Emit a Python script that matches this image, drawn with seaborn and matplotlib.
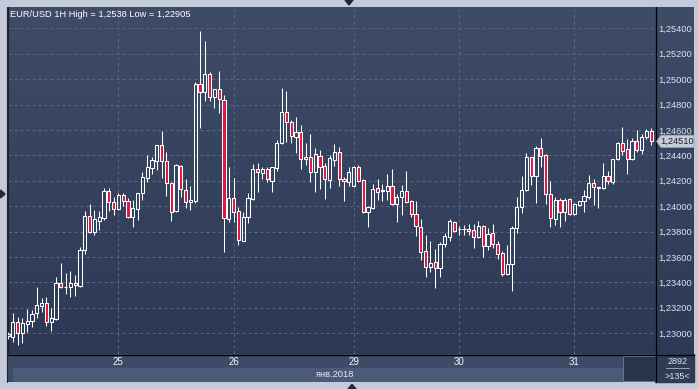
import numpy as np
import pandas as pd
import matplotlib
matplotlib.use("Agg")
import matplotlib.pyplot as plt
import matplotlib.transforms as mtrans
from matplotlib.patches import Polygon, Rectangle
from matplotlib.lines import Line2D
from matplotlib.colors import LinearSegmentedColormap
from matplotlib.ticker import FuncFormatter
import seaborn as sns

# ---------------- data (EUR/USD, 1H candles) ----------------
open_ = [1.22993, 1.22972, 1.23085, 1.22999, 1.23069, 1.23098, 1.23156, 1.23216, 1.23240, 1.23085,
         1.23111, 1.23392, 1.23361, 1.23361, 1.23392, 1.23373, 1.23655, 1.23922, 1.23799, 1.23885,
         1.23909, 1.24119, 1.24035, 1.23975, 1.24085, 1.24043, 1.23917, 1.23975, 1.24101, 1.24224,
         1.24303, 1.24353, 1.24479, 1.24353, 1.24180, 1.23964, 1.24316, 1.24127, 1.24030, 1.24043,
         1.24962, 1.24901, 1.25040, 1.24862, 1.24922, 1.24836, 1.23896, 1.24062, 1.23962, 1.23728,
         1.23912, 1.24054, 1.24290, 1.24258, 1.24290, 1.24200, 1.24298, 1.24495, 1.24739, 1.24660,
         1.24547, 1.24581, 1.24369, 1.24389, 1.24271, 1.24397, 1.24316, 1.24206, 1.24363, 1.24426,
         1.24211, 1.24188, 1.24161, 1.24310, 1.24206, 1.23956, 1.23988, 1.24140, 1.24119, 1.24121,
         1.24158, 1.24014, 1.24070, 1.24119, 1.24040, 1.23936, 1.23838, 1.23647, 1.23518, 1.23558,
         1.23510, 1.23699, 1.23759, 1.23873, 1.23817, 1.23820, 1.23820, 1.23812, 1.23759, 1.23846,
         1.23688, 1.23786, 1.23699, 1.23629, 1.23463, 1.23542, 1.23825, 1.23991, 1.24127, 1.24384,
         1.24240, 1.24455, 1.24403, 1.24093, 1.23896, 1.24048, 1.23951, 1.24056, 1.23936, 1.24009,
         1.24043, 1.24074, 1.24180, 1.24148, 1.24145, 1.24237, 1.24192, 1.24369, 1.24495, 1.24447,
         1.24369, 1.24513, 1.24442, 1.24542, 1.24592]
high = [1.23009, 1.23156, 1.23129, 1.23117, 1.23188, 1.23182, 1.23366, 1.23274, 1.23287, 1.23195,
        1.23444, 1.23550, 1.23476, 1.23489, 1.23458, 1.23676, 1.23962, 1.24017, 1.23970, 1.23962,
        1.24140, 1.24140, 1.24074, 1.24101, 1.24106, 1.24064, 1.24048, 1.24106, 1.24271, 1.24403,
        1.24389, 1.24479, 1.24592, 1.24424, 1.24192, 1.24332, 1.24321, 1.24211, 1.24158, 1.24977,
        1.25380, 1.25303, 1.25058, 1.24922, 1.25064, 1.24875, 1.24310, 1.24224, 1.23991, 1.23956,
        1.24106, 1.24332, 1.24337, 1.24306, 1.24306, 1.24310, 1.24521, 1.24928, 1.24907, 1.24678,
        1.24704, 1.24639, 1.24495, 1.24568, 1.24460, 1.24442, 1.24337, 1.24403, 1.24489, 1.24468,
        1.24232, 1.24310, 1.24316, 1.24324, 1.24211, 1.24001, 1.24174, 1.24214, 1.24174, 1.24253,
        1.24290, 1.24095, 1.24166, 1.24277, 1.24048, 1.24040, 1.23896, 1.23773, 1.23728, 1.23660,
        1.23715, 1.23786, 1.23896, 1.23883, 1.23844, 1.23851, 1.23859, 1.23859, 1.23883, 1.23851,
        1.23825, 1.23859, 1.23728, 1.23647, 1.23694, 1.23844, 1.24070, 1.24237, 1.24416, 1.24389,
        1.24476, 1.24534, 1.24408, 1.24198, 1.24070, 1.24062, 1.24062, 1.24066, 1.24022, 1.24043,
        1.24127, 1.24245, 1.24211, 1.24158, 1.24342, 1.24277, 1.24371, 1.24507, 1.24625, 1.24526,
        1.24534, 1.24599, 1.24568, 1.24607, 1.24613]
low = [1.22954, 1.22932, 1.22905, 1.22925, 1.23011, 1.23046, 1.23117, 1.23169, 1.23058, 1.23019,
       1.23103, 1.23355, 1.23308, 1.23287, 1.23295, 1.23363, 1.23621, 1.23786, 1.23773, 1.23812,
       1.23891, 1.23964, 1.23930, 1.23970, 1.24001, 1.23904, 1.23838, 1.23891, 1.24048, 1.24192,
       1.24253, 1.24284, 1.24219, 1.24082, 1.23883, 1.23956, 1.24074, 1.23983, 1.23970, 1.24022,
       1.24618, 1.24830, 1.24825, 1.24770, 1.24731, 1.23636, 1.23877, 1.23877, 1.23694, 1.23725,
       1.23870, 1.24048, 1.24114, 1.24214, 1.24192, 1.24114, 1.24279, 1.24489, 1.24507, 1.24499,
       1.24416, 1.24290, 1.24324, 1.24192, 1.24114, 1.24135, 1.24056, 1.24140, 1.24316, 1.24158,
       1.24043, 1.24158, 1.24148, 1.24192, 1.23944, 1.23838, 1.23975, 1.24048, 1.24043, 1.24048,
       1.24009, 1.23877, 1.23930, 1.24022, 1.23912, 1.23765, 1.23576, 1.23440, 1.23484, 1.23353,
       1.23440, 1.23676, 1.23728, 1.23799, 1.23773, 1.23773, 1.23773, 1.23673, 1.23747, 1.23597,
       1.23655, 1.23673, 1.23584, 1.23452, 1.23458, 1.23334, 1.23786, 1.23944, 1.24121, 1.24166,
       1.24027, 1.24306, 1.24017, 1.23833, 1.23851, 1.23838, 1.23885, 1.23930, 1.23930, 1.24003,
       1.23956, 1.24054, 1.24009, 1.23988, 1.24135, 1.24174, 1.24174, 1.24363, 1.24403, 1.24251,
       1.24363, 1.24429, 1.24408, 1.24526, 1.24481]
close = [1.22977, 1.23085, 1.22999, 1.23077, 1.23098, 1.23151, 1.23221, 1.23240, 1.23085, 1.23117,
         1.23392, 1.23361, 1.23366, 1.23392, 1.23377, 1.23655, 1.23922, 1.23799, 1.23899, 1.23912,
         1.24119, 1.24035, 1.23977, 1.24088, 1.24043, 1.23917, 1.23983, 1.24101, 1.24227, 1.24310,
         1.24363, 1.24479, 1.24353, 1.24184, 1.23956, 1.24324, 1.24132, 1.24030, 1.24046, 1.24962,
         1.24901, 1.25040, 1.24862, 1.24922, 1.24841, 1.23904, 1.24062, 1.23956, 1.23733, 1.23912,
         1.24062, 1.24290, 1.24265, 1.24290, 1.24211, 1.24306, 1.24495, 1.24739, 1.24660, 1.24552,
         1.24581, 1.24369, 1.24389, 1.24271, 1.24410, 1.24306, 1.24211, 1.24377, 1.24426, 1.24211,
         1.24200, 1.24266, 1.24306, 1.24198, 1.23956, 1.23991, 1.24135, 1.24114, 1.24127, 1.24158,
         1.24014, 1.24070, 1.24119, 1.24030, 1.23936, 1.23844, 1.23636, 1.23518, 1.23550, 1.23510,
         1.23699, 1.23767, 1.23883, 1.23806, 1.23820, 1.23817, 1.23804, 1.23755, 1.23846, 1.23688,
         1.23778, 1.23702, 1.23621, 1.23463, 1.23542, 1.23825, 1.23991, 1.24127, 1.24384, 1.24240,
         1.24455, 1.24397, 1.24093, 1.23904, 1.24048, 1.23951, 1.24048, 1.23936, 1.24014, 1.24043,
         1.24080, 1.24180, 1.24148, 1.24143, 1.24237, 1.24198, 1.24369, 1.24499, 1.24436, 1.24369,
         1.24513, 1.24442, 1.24542, 1.24592, 1.24510]

day_pos = [23, 47, 72, 94, 118]
day_labels = ["25", "26", "29", "30", "31"]
month_label = "янв.2018"
price_ticks = [1.230, 1.232, 1.234, 1.236, 1.238, 1.240, 1.242, 1.244,
               1.246, 1.248, 1.250, 1.252, 1.254]
title = "EUR/USD 1H High = 1,2538 Low = 1,22905"
bars_total = "2892"
bars_visible = ">135<"

# ---------------- style ----------------
sns.set_theme(style="dark")
plt.rcParams["font.family"] = ["Liberation Sans", "DejaVu Sans"]

W, H = 698, 389
fig = plt.figure(figsize=(W / 100, H / 100), dpi=100)
fig.patch.set_facecolor("#c4cbd8")


def fr(x0, y0, x1, y1):
    return [x0 / W, 1 - y1 / H, (x1 - x0) / W, (y1 - y0) / H]


def fx(x):
    return x / W


def fy(y):
    return 1 - y / H


# gradient panel background
bg = fig.add_axes(fr(7, 7, 694, 382))
grad = np.linspace(0, 1, 256)[:, None]
cmap = LinearSegmentedColormap.from_list("g", ["#3f4c67", "#2c3853"])
bg.imshow(grad, aspect="auto", cmap=cmap, extent=[0, 1, 0, 1], origin="upper")
bg.set_axis_off()

# ---------------- main chart ----------------
ax = fig.add_axes(fr(8, 7, 655, 354))
ax.set_facecolor("none")
df = pd.DataFrame({"o": open_, "h": high, "l": low, "c": close})
df["i"] = np.arange(len(df))
up = df["c"] >= df["o"]
b_lo = np.minimum(df["o"], df["c"])
b_hi = np.maximum(df["o"], df["c"])

red = "#e0163d"
ax.vlines(df["i"], b_hi, df["h"], color="white", lw=0.75, zorder=3)
ax.vlines(df["i"], df["l"], b_lo, color="white", lw=0.75, zorder=3)
ax.bar(df["i"], b_hi - b_lo, bottom=b_lo, width=0.66,
       color=["none" if u else red for u in up],
       edgecolor="white", linewidth=0.75, zorder=4)

ax.set_xlim(0.0, 134.8)
ax.set_ylim(1.228354, 1.25568)
ax.set_yticks(price_ticks)
ax.set_xticks(day_pos)
ax.grid(True, color="#5a6782", lw=0.72, ls=(0, (3, 3)))
ax.set_axisbelow(True)
ax.yaxis.tick_right()
ax.yaxis.set_major_formatter(FuncFormatter(lambda v, p: f"{v:.5f}".replace(".", ",")))
ax.tick_params(axis="y", length=0, pad=2.6, labelsize=6.7, labelcolor="#dce4f2")
ax.tick_params(axis="x", length=0, labelbottom=False)
for s in ["top", "right", "bottom"]:
    ax.spines[s].set_visible(False)
ax.spines["left"].set_color("#1b2130")
ax.spines["left"].set_linewidth(0.8)

fig.text(fx(10), fy(14.7), title, color="white", fontsize=6.7, va="center", ha="left")

# ---------------- bottom time axis panel ----------------
axb = fig.add_axes(fr(8, 354, 655, 382))
axb.set_xlim(ax.get_xlim())
axb.set_ylim(0, 1)
axb.set_axis_off()
axb.add_patch(Rectangle((0, 0), 1, 1, transform=axb.transAxes, color="#3e4b67", zorder=0))
axb.add_patch(Rectangle((0.0077, 0.036), 0.9428, 0.464, transform=axb.transAxes,
                        color="#4b5a78", zorder=1))
axb.add_patch(Rectangle((0.9505, 0.036), 0.0495, 0.893, transform=axb.transAxes,
                        facecolor="#28334c", edgecolor="#6a7690", lw=0.7, zorder=2))
for p, lab in zip(day_pos, day_labels):
    axb.text(p, 0.714, lab, ha="center", va="center", color="#eef2fa", fontsize=7)
fig.text(fx(335), fy(374.5), month_label, ha="center", va="center", color="#e6ecf6", fontsize=6.7)

# bottom-right info cell
fig.add_artist(Rectangle((fx(655), fy(382)), fx(694) - fx(655), fy(354) - fy(382),
                         transform=fig.transFigure, color="#2f3b57", zorder=1))
fig.text(fx(677.5), fy(362), bars_total, ha="center", va="center", color="#dfe6f3", fontsize=6.5, zorder=3)
fig.add_artist(Line2D([fx(666), fx(689)], [fy(367.7), fy(367.7)], transform=fig.transFigure,
                      color="#9aa5ba", lw=0.7))
fig.text(fx(677.5), fy(376.5), bars_visible, ha="center", va="center", color="#dfe6f3", fontsize=6.5, zorder=3)

# separator lines
fig.add_artist(Line2D([fx(8), fx(694)], [fy(354.5), fy(354.5)], transform=fig.transFigure,
                      color="black", lw=0.9))
fig.add_artist(Line2D([fx(655.5), fx(655.5)], [fy(7), fy(382)], transform=fig.transFigure,
                      color="black", lw=0.9))
fig.add_artist(Line2D([fx(7.5), fx(7.5)], [fy(7), fy(382)], transform=fig.transFigure,
                      color="#1b2130", lw=0.8))

# current price tag
trans = mtrans.blended_transform_factory(fig.transFigure, ax.transData)
c_last = close[-1]
dy = 6.2 / 12698
tag = Polygon([(fx(656.5), c_last), (fx(661), c_last + dy), (fx(694), c_last + dy),
               (fx(694), c_last - dy), (fx(661), c_last - dy)],
              closed=True, transform=trans, facecolor="#c6cbd4", edgecolor="#9aa2b0",
              lw=0.5, zorder=2)
fig.add_artist(tag)
fig.text(fx(677.5), c_last, f"{c_last:.5f}".replace(".", ","), transform=trans,
         ha="center", va="center", color="#1b2232", fontsize=6.7, zorder=3)

# small navigation triangles
tri_col = "#1f2636"
fig.add_artist(Polygon([(fx(345), fy(0)), (fx(353), fy(0)), (fx(349), fy(5))],
                       transform=fig.transFigure, color=tri_col))
fig.add_artist(Polygon([(fx(0.5), fy(190)), (fx(0.5), fy(198)), (fx(5), fy(194))],
                       transform=fig.transFigure, color=tri_col))
fig.add_artist(Polygon([(fx(348), fy(389)), (fx(356), fy(389)), (fx(352), fy(384.5))],
                       transform=fig.transFigure, color=tri_col))

fig.savefig("out.png", dpi=100, facecolor=fig.get_facecolor())
